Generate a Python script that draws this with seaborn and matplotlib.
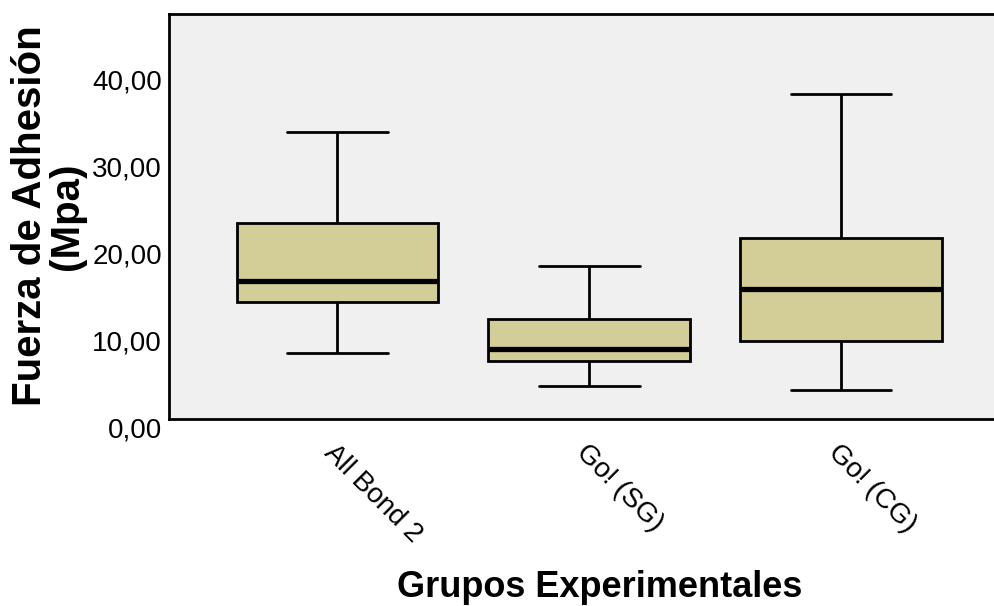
import seaborn as sns
import matplotlib.pyplot as plt
import matplotlib.transforms as mtransforms
import pandas as pd

# grupos y valores (min, Q1, mediana, Q3, max)
grupos = ["All Bond 2", "Go! (SG)", "Go! (CG)"]
all_bond_2 = [7.55, 13.4, 15.9, 22.5, 33.0]
go_sg = [3.76, 6.7, 8.08, 11.46, 17.6]
go_cg = [3.3, 9.0, 14.9, 20.84, 37.3]
y_ticks = [0, 10, 20, 30, 40]
y_tick_labels = ["0,00", "10,00", "20,00", "30,00", "40,00"]

df = pd.DataFrame({
    "grupo": [grupos[0]] * len(all_bond_2) + [grupos[1]] * len(go_sg) + [grupos[2]] * len(go_cg),
    "fuerza": all_bond_2 + go_sg + go_cg,
})

sns.set_style("white")
plt.rcParams['font.family'] = ['Liberation Sans', 'DejaVu Sans']

fig = plt.figure(figsize=(9.95, 6.06), dpi=100)
ax = fig.add_axes([169 / 995, 1 - 419 / 606, 1 - 169 / 995, (419 - 14) / 606])
ax.set_facecolor("#F0F0F0")

sns.boxplot(data=df, x="grupo", y="fuerza", order=grupos, ax=ax,
            color="#D3CE97", width=0.8, whis=(0, 100), saturation=1,
            linecolor="black", linewidth=2.0,
            medianprops={"linewidth": 3.8, "color": "black"},
            boxprops={"edgecolor": "black", "linewidth": 2.0})

ax.set_xlim(-0.669, 2.612)
ax.set_ylim(0, 46.55)
ax.set_yticks(y_ticks)
ax.set_yticklabels(y_tick_labels, fontsize=20, color="black")
ax.tick_params(axis="y", length=0, pad=5)
# las etiquetas del eje y van un poco mas abajo que la marca, como en el original
offset = mtransforms.ScaledTranslation(0, -8.5 / 100, fig.dpi_scale_trans)
for lbl in ax.get_yticklabels():
    lbl.set_transform(lbl.get_transform() + offset)

ax.tick_params(axis="x", length=13, width=2.0, color="black", direction="out", pad=2)
ax.set_xticks(range(len(grupos)))
ax.set_xticklabels(grupos, fontsize=20, color="black", rotation=-45, ha="left", va="top",
                   rotation_mode="anchor")

for side in ["left", "top", "bottom"]:
    ax.spines[side].set_color("black")
    ax.spines[side].set_linewidth(2.0)
ax.spines["right"].set_visible(False)

ax.set_xlabel("Grupos Experimentales", fontsize=26, fontweight="bold", color="black")
ax.set_ylabel("Fuerza de Adhesión\n(Mpa)", fontsize=29, fontweight="bold", color="black",
              linespacing=0.95)
ax.xaxis.set_label_coords((600 - 169) / (995 - 169), -(570 - 419) / (419 - 14))
ax.yaxis.set_label_coords(-(169 - 86) / (995 - 169), (419 - 216) / (419 - 14))

fig.savefig("out.png", dpi=100)
